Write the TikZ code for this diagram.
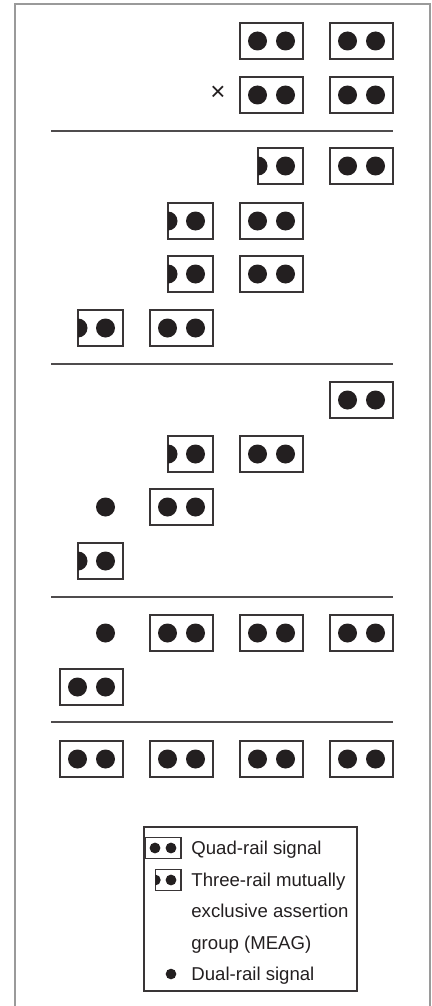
\documentclass[tikz,border=0pt]{standalone}
\usepackage{fontspec}
\setmainfont{Liberation Sans}
\definecolor{ink}{HTML}{231F20}
\definecolor{cframe}{HTML}{9A9A9A}
\tikzset{
  every picture/.style={x=0.5pt, y=-0.5pt, font=\fontsize{9.3}{11}\selectfont},
  sigbox/.style={draw=ink!90, line width=0.7pt},
  rule/.style={draw=ink!80, line width=0.6pt},
  outer/.style={draw=cframe, line width=0.75pt},
  legtext/.style={anchor=base west, inner sep=0pt, text=ink},
}
% column centres and dot geometry (pixel units)
\def\cA{91.5}
\def\cB{181.5}
\def\cC{271.5}
\def\cD{361.5}
\def\dr{9.5}
\newcommand{\quadsig}[3][1]{% quad-rail: box with two dots
  \begin{scope}[shift={(#2,#3)}, scale=#1]
    \draw[sigbox] (-31.5,-18) rectangle (31.5,18);
    \fill[ink] (-14,0) circle (\dr);
    \fill[ink] (14,0) circle (\dr);
  \end{scope}
}
\newcommand{\threesig}[3][1]{% three-rail MEAG: left dot cut by the box
  \begin{scope}[shift={(#2,#3)}, scale=#1]
    \draw[sigbox] (-13.5,-18) rectangle (31.5,18);
    \fill[ink] (-13.5,-\dr) arc (-90:90:\dr) -- cycle;
    \fill[ink] (14,0) circle (\dr);
  \end{scope}
}
\newcommand{\dualsig}[3][1]{% dual-rail: single dot
  \fill[ink] (#2,#3) circle (#1*\dr);
}

\begin{document}
\begin{tikzpicture}
  \path[use as bounding box] (0,0) rectangle (432,1006);
  \draw[outer] (15,1010) -- (15,4) -- (430,4) -- (430,1010);
  \foreach \y in {131,364,597,722}
    \draw[rule] (51,\y) -- (393,\y);

  % section 1
  \quadsig{\cC}{41} \quadsig{\cD}{41}
  \node[inner sep=0pt, text=ink, font=\fontsize{13}{15}\selectfont] (times) at (218,93) {×};
  \quadsig{\cC}{95} \quadsig{\cD}{95}

  % section 2
  \threesig{\cC}{166} \quadsig{\cD}{166}
  \threesig{\cB}{221} \quadsig{\cC}{221}
  \threesig{\cB}{274} \quadsig{\cC}{274}
  \threesig{\cA}{328} \quadsig{\cB}{328}

  % section 3
  \quadsig{\cD}{400}
  \threesig{\cB}{454} \quadsig{\cC}{454}
  \dualsig{105.5}{507} \quadsig{\cB}{507}
  \threesig{\cA}{561}

  % section 4
  \dualsig{105.5}{633} \quadsig{\cB}{633} \quadsig{\cC}{633} \quadsig{\cD}{633}
  \quadsig{\cA}{687}

  % section 5
  \quadsig{\cA}{759} \quadsig{\cB}{759} \quadsig{\cC}{759} \quadsig{\cD}{759}

  % legend
  \draw[sigbox] (144,827) rectangle (357,991);
  \quadsig[0.571]{163}{848}
  \threesig[0.571]{163}{880}
  \dualsig[0.56]{171}{974}
  \node[legtext] (lquad) at (191,854) {Quad-rail signal};
  \node[legtext] (lthree) at (191,886) {Three-rail mutually};
  \node[legtext] (lexcl) at (191,917) {exclusive assertion};
  \node[legtext] (lgroup) at (191,949) {group (MEAG)};
  \node[legtext] (ldual) at (191,980) {Dual-rail signal};
\end{tikzpicture}
\end{document}
